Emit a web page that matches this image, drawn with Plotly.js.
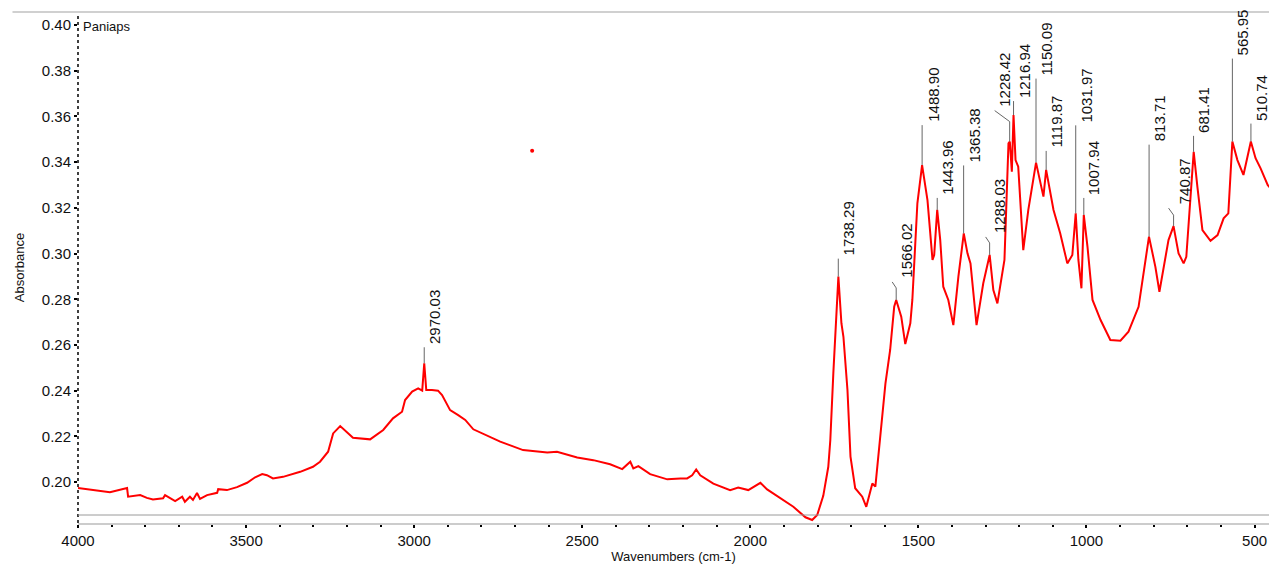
<!DOCTYPE html>
<html lang="en">
<head>
    <meta charset="UTF-8">
    <title>Paniaps</title>
    <script src="https://cdn.plot.ly/plotly-3.0.1.min.js"></script>
    <style>
        body { margin: 0; background: white; }
        #plot { width: 1269px; height: 567px; }
    </style>
</head>

<body>
<div id="plot"></div>

<script>

    // spectrum, wavenumber (cm-1) vs absorbance
    const wavenumbers = [
        4000, 3935, 3905, 3854, 3851, 3815, 3795, 3777, 3747, 3741,
        3711, 3690, 3682, 3667, 3658, 3646, 3637, 3616, 3586, 3583,
        3557, 3527, 3497, 3473, 3452, 3438, 3420, 3390, 3339, 3301,
        3280, 3256, 3241, 3220, 3200, 3182, 3131, 3092, 3063, 3036,
        3027, 3006, 2988, 2976, 2970, 2964, 2947, 2929, 2917, 2893,
        2869, 2848, 2824, 2765, 2744, 2676, 2604, 2575, 2515, 2467,
        2417, 2381, 2357, 2348, 2333, 2298, 2247, 2208, 2188, 2173,
        2161, 2149, 2110, 2060, 2036, 2006, 1970, 1950, 1911, 1872,
        1836, 1816, 1801, 1783, 1768, 1762, 1753, 1744, 1738, 1729,
        1723, 1711, 1702, 1688, 1667, 1655, 1637, 1628, 1619, 1598,
        1584, 1572, 1566, 1551, 1539, 1524, 1518, 1509, 1503, 1489,
        1473, 1458, 1453, 1444, 1435, 1426, 1411, 1396, 1381, 1365,
        1354, 1345, 1327, 1307, 1288, 1277, 1265, 1244, 1232, 1228,
        1222, 1217, 1211, 1203, 1188, 1173, 1150, 1128, 1120, 1098,
        1078, 1057, 1042, 1032, 1024, 1015, 1008, 997, 982, 958,
        929, 899, 875, 845, 814, 795, 783, 756, 741, 726,
        711, 703, 688, 681, 670, 655, 631, 610, 592, 578,
        566, 551, 533, 521, 511, 497, 482, 461, 455
    ]
    const absorbance = [
        0.1974, 0.1962, 0.1956, 0.1974, 0.1936, 0.1943, 0.1931, 0.1924, 0.1929, 0.1943,
        0.1917, 0.1936, 0.1914, 0.1936, 0.1922, 0.1952, 0.1926, 0.1943, 0.1953, 0.1969,
        0.1965, 0.1978, 0.1997, 0.2021, 0.2035, 0.2030, 0.2016, 0.2023, 0.2045, 0.2067,
        0.2089, 0.2133, 0.2213, 0.2245, 0.2216, 0.2194, 0.2187, 0.2228, 0.2279, 0.2308,
        0.2359, 0.2396, 0.2410, 0.2400, 0.2520, 0.2403, 0.2403, 0.2400, 0.2381, 0.2315,
        0.2293, 0.2272, 0.2231, 0.2191, 0.2177, 0.2140, 0.2129, 0.2133, 0.2108, 0.2096,
        0.2078, 0.2057, 0.2089, 0.2060, 0.2070, 0.2035, 0.2012, 0.2016, 0.2016, 0.2030,
        0.2055, 0.2030, 0.1993, 0.1965, 0.1976, 0.1965, 0.1997, 0.1968, 0.1929, 0.1892,
        0.1846, 0.1834, 0.1856, 0.1940, 0.2067, 0.2184, 0.2477, 0.2767, 0.2899, 0.2695,
        0.2636, 0.2403, 0.2111, 0.1973, 0.1936, 0.1892, 0.1994, 0.1980, 0.2111, 0.2432,
        0.2578, 0.2767, 0.2797, 0.2724, 0.2604, 0.2695, 0.2797, 0.3059, 0.3220, 0.3387,
        0.3234, 0.2972, 0.2994, 0.3191, 0.3059, 0.2855, 0.2797, 0.2687, 0.2899, 0.3088,
        0.3001, 0.2957, 0.2687, 0.2870, 0.2994, 0.2840, 0.2782, 0.2972, 0.3482, 0.3490,
        0.3358, 0.3606, 0.3409, 0.3380, 0.3015, 0.3191, 0.3398, 0.3249, 0.3366, 0.3191,
        0.3088, 0.2957, 0.2994, 0.3176, 0.2972, 0.2848, 0.3169, 0.3030, 0.2797, 0.2709,
        0.2622, 0.2619, 0.2658, 0.2767, 0.3074, 0.2942, 0.2833, 0.3059, 0.3120, 0.3001,
        0.2957, 0.2986, 0.3322, 0.3445, 0.3292, 0.3103, 0.3056, 0.3081, 0.3154, 0.3176,
        0.3490, 0.3409, 0.3344, 0.3424, 0.3490, 0.3417, 0.3373, 0.3300, 0.3290
    ]

    // peak labels and the absorbance at each peak
    const peakLabels = ['2970.03', '1738.29', '1566.02', '1488.90', '1443.96', '1365.38',
        '1288.03', '1228.42', '1216.94', '1150.09', '1119.87', '1031.97', '1007.94',
        '813.71', '740.87', '681.41', '565.95', '510.74']
    const peakAbs = [0.2520, 0.2899, 0.2797, 0.3387, 0.3191, 0.3088,
        0.2994, 0.3490, 0.3606, 0.3398, 0.3366, 0.3176, 0.3169,
        0.3074, 0.3120, 0.3445, 0.3490, 0.3490]

    // the odd single point up in the empty area
    const strayWn = [2649]
    const strayAbs = [0.345]

    const baselineAbs = 0.1856
    const yTicks = [0.20, 0.22, 0.24, 0.26, 0.28, 0.30, 0.32, 0.34, 0.36, 0.38, 0.40]
    const xTicks = [4000, 3500, 3000, 2500, 2000, 1500, 1000, 500]

    // label placement in px: lift of text above peak, straight leader part,
    // optional bent top (dx, dy), sideways text shift
    const textLift = [18, 20, 21, 42, 14, 70, 21, 34, 16, 86, 21, 90, 19, 94, 21, 18, 85, 20]
    const stemLen = [16, 18, 12, 40, 12, 68, 12, 20, 14, 84, 19, 88, 17, 92, 11, 16, 83, 18]
    const bendDx = [0, 0, -4, 0, 0, 0, -4, -15, 0, 0, 0, 0, 0, 0, -5, 0, 0, 0]
    const bendDy = [0, 0, 6, 0, 0, 0, 6, 11, 0, 0, 0, 0, 0, 0, 7, 0, 0, 0]
    const textDx = [1, 1, 1, 1, 1, 1, 1, -15, 1, 1, 1, 1, 1, 1, 1, 1, 1, 1]

    const font = '"Liberation Sans", Arial, sans-serif'

    const spectrum = {
        x: wavenumbers,
        y: absorbance,
        type: 'scatter',
        mode: 'lines',
        line: { color: 'rgb(255,0,0)', width: 2 },
        hoverinfo: 'x+y'
    }

    const stray = {
        x: strayWn,
        y: strayAbs,
        type: 'scatter',
        mode: 'markers',
        marker: { color: 'rgb(255,0,0)', size: 4 },
        hoverinfo: 'skip'
    }

    const peakNotes = peakLabels.map((lab, i) => ({
        x: parseFloat(lab),
        y: peakAbs[i],
        xref: 'x',
        yref: 'y',
        text: lab,
        textangle: -90,
        showarrow: false,
        xanchor: 'left',
        yanchor: 'bottom',
        xshift: textDx[i],
        yshift: textLift[i],
        borderpad: 0,
        font: { family: font, size: 15, color: '#111' }
    }))

    peakNotes.push({
        x: 0, y: 1, xref: 'paper', yref: 'paper',
        xanchor: 'left', yanchor: 'top',
        xshift: 3, yshift: -5,
        text: 'Paniaps',
        showarrow: false,
        font: { family: font, size: 13, color: '#111' }
    })

    // leader lines drawn as pixel-sized shapes anchored on each peak
    const leaderStyle = { color: '#666', width: 1 }
    const leaders = []
    peakLabels.forEach((lab, i) => {
        const wn = parseFloat(lab)
        leaders.push({
            type: 'line', xref: 'x', yref: 'y',
            xsizemode: 'pixel', xanchor: wn, x0: 0, x1: 0,
            ysizemode: 'pixel', yanchor: peakAbs[i], y0: 0, y1: stemLen[i],
            line: leaderStyle
        })
        if (bendDy[i] > 0) {
            leaders.push({
                type: 'line', xref: 'x', yref: 'y',
                xsizemode: 'pixel', xanchor: wn, x0: 0, x1: bendDx[i],
                ysizemode: 'pixel', yanchor: peakAbs[i], y0: stemLen[i], y1: stemLen[i] + bendDy[i],
                line: leaderStyle
            })
        }
    })

    const layout = {
        width: 1269,
        height: 567,
        margin: { l: 78, r: 0, t: 12, b: 44 },
        paper_bgcolor: 'white',
        plot_bgcolor: 'white',
        showlegend: false,
        font: { family: font, color: '#111' },
        xaxis: {
            range: [4000, 457],
            tickvals: xTicks,
            ticks: 'outside',
            ticklen: 3,
            tickwidth: 2,
            tickcolor: '#000',
            minor: { dtick: 100, ticks: 'outside', ticklen: 2, tickwidth: 2, tickcolor: '#000', showgrid: false },
            showgrid: false,
            zeroline: false,
            showline: true,
            linecolor: '#cccccc',
            linewidth: 2,
            tickfont: { size: 15 },
            title: { text: 'Wavenumbers (cm-1)', font: { size: 13 }, standoff: 4 }
        },
        yaxis: {
            range: [0.1821, 0.4057],
            tickvals: yTicks,
            tickformat: '.2f',
            ticks: 'outside',
            ticklen: 3,
            tickwidth: 2,
            tickcolor: '#000',
            showgrid: false,
            zeroline: false,
            showline: false,
            tickfont: { size: 15 },
            title: { text: 'Absorbance', font: { size: 13 }, standoff: 14 }
        },
        shapes: [
            { type: 'line', xref: 'paper', yref: 'paper', x0: 0, x1: 0, y0: 0, y1: 1,
              line: { color: '#000', width: 1.5, dash: 'dot' } },
            { type: 'line', xref: 'paper', yref: 'paper', x0: -0.055, x1: 1, y0: 1, y1: 1,
              line: { color: '#d0d0d0', width: 2 } },
            { type: 'line', xref: 'paper', yref: 'y', x0: 0, x1: 1, y0: baselineAbs, y1: baselineAbs,
              line: { color: '#9a9a9a', width: 1 } }
        ].concat(leaders),
        annotations: peakNotes
    }

    Plotly.newPlot('plot', [spectrum, stray], layout, { displayModeBar: false, staticPlot: true })

</script>

</body>
</html>
